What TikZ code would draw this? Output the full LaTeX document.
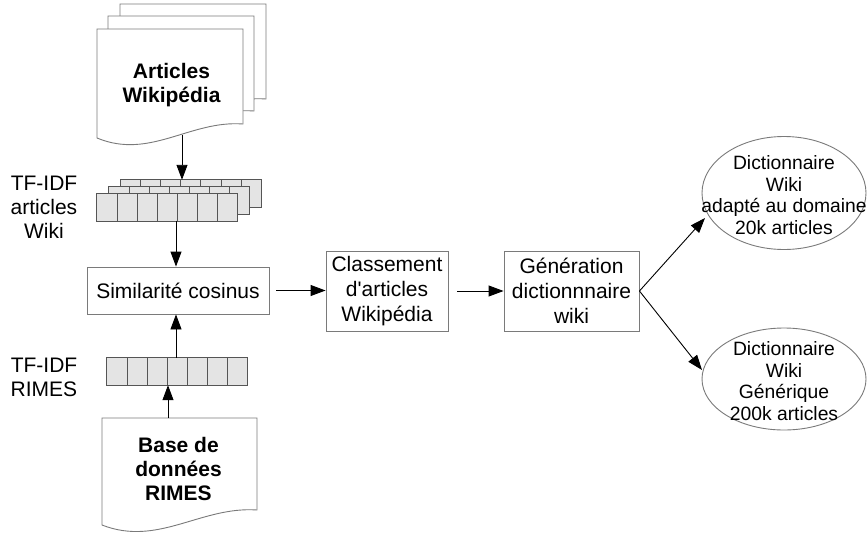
\documentclass[tikz,border=0pt]{standalone}
\usepackage{fontspec}
\setmainfont{Liberation Sans}
\usetikzlibrary{arrows.meta,shapes.geometric}
\definecolor{boxgray}{HTML}{7A7A7A}
\definecolor{cellfill}{HTML}{E4E4E4}
\definecolor{cellline}{HTML}{555555}
\begin{document}
\begin{tikzpicture}[x=1pt,y=-1pt,
  font=\fontsize{21}{24}\selectfont,
  box/.style={draw=boxgray, line width=0.9pt, inner sep=0pt, align=center, fill=white, font=\fontsize{21}{25}\selectfont},
  arr/.style={-{Triangle[length=15pt,width=11pt]}, line width=0.9pt, black},
  docshape/.style={draw=boxgray, fill=white, line width=0.9pt},
  cell/.style={draw=cellline, fill=cellfill, line width=0.8pt},
  rowbox/.style={minimum width=141pt, minimum height=27pt, inner sep=0pt, draw=none},
  dictshape/.style={ellipse, draw=boxgray, line width=0.9pt, inner sep=0pt, fill=white},
  dicttext/.style={align=center, inner sep=0pt, font=\fontsize{19.3}{21.5}\selectfont},
  lbl/.style={align=center, inner sep=0pt}]
\fill[white] (0,0) rectangle (867,533);
\useasboundingbox (0,0) rectangle (867,533);

% Wikipedia document stack
\draw[docshape] (120,4) -- (266,4) -- (266,99) .. controls (213,95) and (173,135) .. (120,113) -- cycle;
\draw[docshape] (108,16) -- (254,16) -- (254,111) .. controls (201,107) and (161,147) .. (108,125) -- cycle;
\draw[docshape] (97,29) -- (243,29) -- (243,124) .. controls (190,120) and (150,160) .. (97,138) -- cycle;
\node[lbl, font=\bfseries\fontsize{21}{23.5}\selectfont] (wikitxt) at (171.5,85) {Articles\\Wikipédia};
\coordinate (wikiout) at (182,134.5);

% RIMES document
\draw[docshape] (102,418) -- (257,418) -- (257,510) .. controls (201,506) and (158,547) .. (102,525) -- cycle;
\node[lbl, font=\bfseries\fontsize{21}{24}\selectfont] (rimestxt) at (178.5,469) {Base de\\données\\RIMES};
\coordinate (rimesin) at (168,418);

% TF-IDF Wiki rows (back to front)
\node[rowbox] (wiki3) at (191,193.5) {};
\node[rowbox] (wiki2) at (179.5,200.5) {};
\node[rowbox] (wiki1) at (167.5,207.5) {};
\foreach \r in {wiki3,wiki2,wiki1}{
  \foreach \i in {0,...,6}{
    \draw[cell] ([xshift={\i*141/7*1pt}]\r.north west) rectangle ([xshift={(\i+1)*141/7*1pt}]\r.south west);
  }
}
% TF-IDF RIMES row
\node[rowbox] (rimesrow) at (177.5,371.5) {};
\foreach \i in {0,...,6}{
  \draw[cell] ([xshift={\i*141/7*1pt}]rimesrow.north west) rectangle ([xshift={(\i+1)*141/7*1pt}]rimesrow.south west);
}

% labels
\node[lbl] (lblwiki) at (44,207) {TF-IDF\\articles\\Wiki};
\node[lbl] (lblrimes) at (44,377) {TF-IDF\\RIMES};

% process boxes
\node[box, minimum width=182pt, minimum height=47pt] (sim) at (178,290.5) {Similarité cosinus};
\node[box, minimum width=122pt, minimum height=80pt] (class) at (387,291) {Classement\\d\textquotesingle articles\\Wikipédia};
\node[box, minimum width=135pt, minimum height=80pt] (gen) at (571.5,291) {Génération\\dictionnnaire\\wiki};

% dictionaries
\node[dictshape, minimum width=164pt, minimum height=113pt] (d1) at (784,193) {};
\node[dicttext] (d1txt) at (784,195) {Dictionnaire\\Wiki\\adapté au domaine\\20k articles};
\node[dictshape, minimum width=164pt, minimum height=102pt] (d2) at (784,379) {};
\node[dicttext] (d2txt) at (784,381) {Dictionnaire\\Wiki\\Générique\\200k articles};

% connectors
\coordinate (cx) at (176,0);
\coordinate (d1in) at (705,218);
\coordinate (d2in) at (702,370);
\draw[arr] (wikiout) -- (wikiout |- wiki3.north);
\draw[arr] (wiki1.south -| cx) -- (sim.north -| cx);
\draw[arr] (rimesrow.north -| cx) -- (sim.south -| cx);
\draw[arr] (rimesin) -- (rimesin |- rimesrow.south);
\draw[arr, shorten <=7pt] (sim.east) -- (sim.east -| class.west);
\draw[arr, shorten <=9pt] (class.east) -- (gen.west);
\draw[arr] (gen.east) -- (d1in);
\draw[arr] (gen.east) -- (d2in);
\end{tikzpicture}
\end{document}
